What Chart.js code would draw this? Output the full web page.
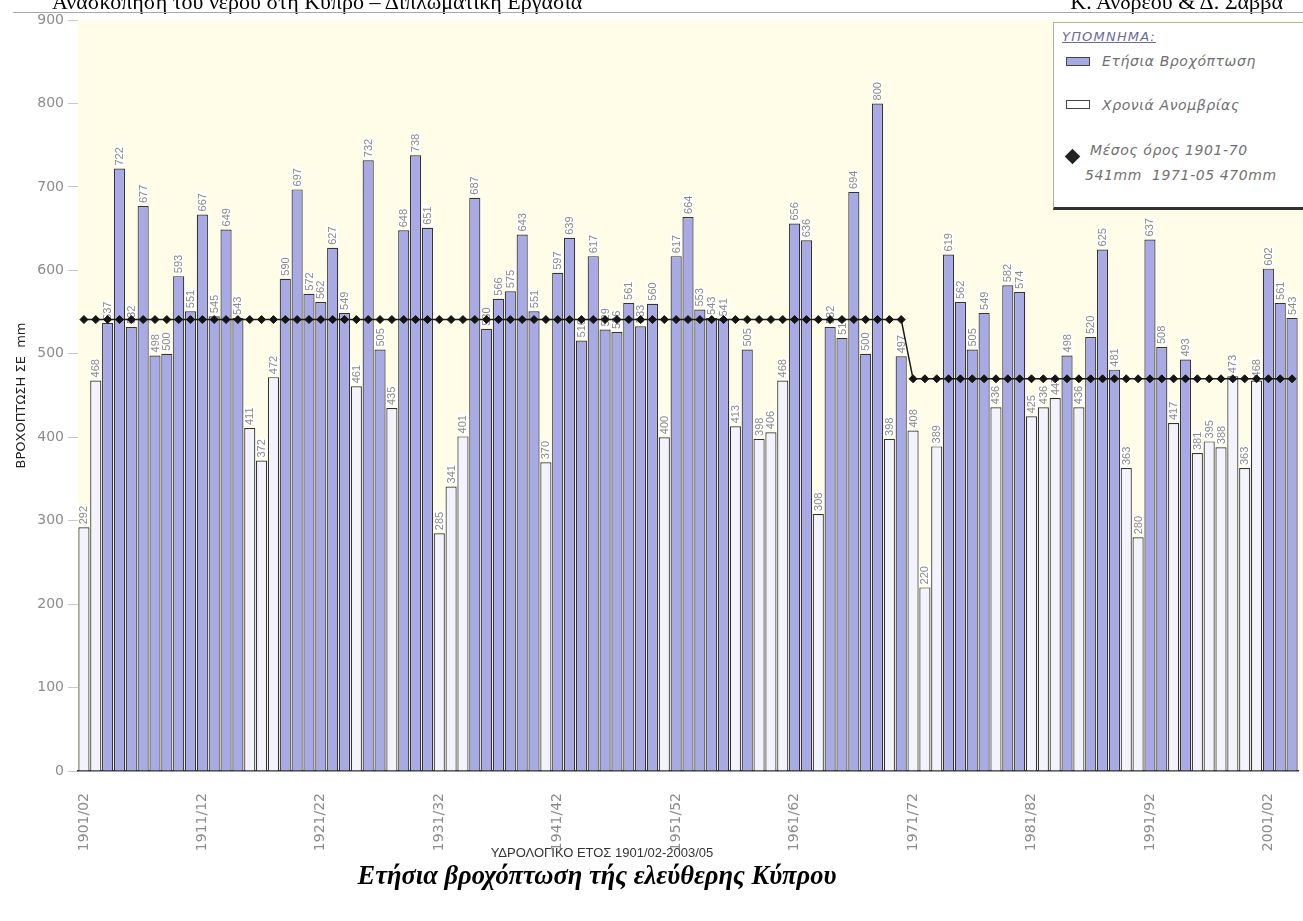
<!DOCTYPE html>
<html lang="el">
<head>
<meta charset="utf-8">
<title>Ετήσια βροχόπτωση τής ελεύθερης Κύπρου</title>
<script src="https://cdn.jsdelivr.net/npm/chart.js@4.4.1/dist/chart.umd.min.js"></script>
<style>
html,body{margin:0;padding:0;background:#fff}
body{width:1303px;height:921px;overflow:hidden;position:relative;font-family:"DejaVu Sans",sans-serif}
#wrap{position:absolute;left:0;top:0;width:1303px;height:870px}
.hdr{position:absolute;top:-9px;font:22px/22px "Liberation Serif",serif;color:#000;white-space:nowrap}
#rule{position:absolute;left:13px;right:0;top:12px;border-top:1px solid #a8a8a8}
#xtitle{position:absolute;left:402px;width:400px;top:845px;text-align:center;font:13px/15px "Liberation Sans",sans-serif;color:#333}
#caption{position:absolute;left:0;width:1194px;top:862px;text-align:center;font:bold italic 26.5px/27px "Liberation Serif",serif;color:#000}
#legend{position:absolute;left:1053px;top:22px;width:270px;height:184px;background:#fff;border:1px solid #b0b0b0;border-bottom:3px solid #333}
#legend div{position:absolute;white-space:nowrap}
.lt{font:italic 14px/16px "DejaVu Sans",sans-serif;color:#707070;letter-spacing:0.6px}
.sw{width:22px;height:7px;border:1.5px solid #444}
</style>
</head>
<body>
<div id="wrap"><canvas id="chartRain"></canvas></div>
<div class="hdr" style="left:52px">Ανασκόπηση του νερού στη Κύπρο – Διπλωματική Εργασία</div>
<div class="hdr" style="right:20px">Κ. Ανδρέου &amp; Δ. Σάββα</div>
<div id="rule"></div>
<div id="legend">
  <div style="left:8px;top:6px;font:italic 13px/15px 'DejaVu Sans',sans-serif;letter-spacing:1.2px;color:#6a6a98;text-decoration:underline">ΥΠΟΜΝΗΜΑ:</div>
  <div class="sw" style="left:12px;top:34px;background:#a8aae6"></div>
  <div class="lt" style="left:48px;top:30px">Ετήσια Βροχόπτωση</div>
  <div class="sw" style="left:12px;top:77px;background:#fff"></div>
  <div class="lt" style="left:48px;top:74px">Χρονιά Ανομβρίας</div>
  <div style="left:13px;top:128px;width:11px;height:11px;background:#222;transform:rotate(45deg)"></div>
  <div class="lt" style="left:36px;top:119px">Μέσος όρος 1901-70</div>
  <div class="lt" style="left:31px;top:144px">541mm&nbsp; 1971-05 470mm</div>
</div>
<div id="xtitle">ΥΔΡΟΛΟΓΙΚΟ ΕΤΟΣ 1901/02-2003/05</div>
<div id="caption">Ετήσια βροχόπτωση τής ελεύθερης Κύπρου</div>
<script>
// hydrological years 1901/02 .. 2003/04
var years=[];
for(var y=1901;y<=2003;y++) years.push(y+"/"+String((y+1)%100).padStart(2,"0"));

// annual rainfall, mm
var rainfall=[
  292,468,537,722,532,677,498,500,593,551,
  667,545,649,543,411,372,472,590,697,572,
  562,627,549,461,732,505,435,648,738,651,
  285,341,401,687,530,566,575,643,551,370,
  597,639,516,617,529,526,561,533,560,400,
  617,664,553,543,541,413,505,398,406,468,
  656,636,308,532,519,694,500,800,398,497,
  408,220,389,619,562,505,549,436,582,574,
  425,436,447,498,436,520,625,481,363,280,
  637,508,417,493,381,395,388,473,363,468,
  602,561,543
];

// 1 = drought year (white bar)
var drought=[
  1,1,0,0,0,0,0,0,0,0,
  0,0,0,0,1,1,1,0,0,0,
  0,0,0,1,0,0,1,0,0,0,
  1,1,1,0,0,0,0,0,0,1,
  0,0,0,0,0,0,0,0,0,1,
  0,0,0,0,0,1,0,1,1,1,
  0,0,1,0,0,0,0,0,1,0,
  1,1,1,0,0,0,0,1,0,0,
  1,1,1,0,1,0,0,0,1,1,
  0,0,1,0,1,1,1,1,1,1,
  0,0,0
];

// period means: 1901-70 and 1971-05
var meanValues=[541,470];
var meanStartIdx=[0,70];

var meanLine=years.map(function(_,i){return i>=meanStartIdx[1]?meanValues[1]:meanValues[0]});

var BLUE="#a8aae6",WHITE="#f3f3ff";

var plotBg={id:"plotBg",beforeDraw:function(c){
  var a=c.chartArea,x=c.ctx;
  x.save();
  x.fillStyle="#fffde7";
  x.fillRect(a.left,a.top,c.width-a.left,a.bottom-a.top);
  x.restore();
}};

var barLabels={id:"barLabels",afterDatasetDraw:function(c,args){
  if(args.index!==0) return;
  var ctx=c.ctx;
  ctx.save();
  ctx.font="11px 'Liberation Sans', sans-serif";
  ctx.textBaseline="middle";
  ctx.textAlign="left";
  args.meta.data.forEach(function(bar,i){
    var t=String(rainfall[i]),w=ctx.measureText(t).width;
    ctx.save();
    ctx.translate(bar.x,bar.y-3);
    ctx.rotate(-Math.PI/2);
    ctx.fillStyle="rgba(255,255,255,0.92)";
    ctx.fillRect(-1,-5.5,w+2,11);
    ctx.fillStyle="#8a8a8a";
    ctx.fillText(t,0,0.5);
    ctx.restore();
  });
  ctx.restore();
}};

Chart.defaults.font.family="'DejaVu Sans', sans-serif";

new Chart(document.getElementById("chartRain").getContext("2d"),{
  type:"bar",
  data:{labels:years,datasets:[
    {label:"Ετήσια Βροχόπτωση",data:rainfall,order:1,
     backgroundColor:drought.map(function(d){return d?WHITE:BLUE}),
     borderColor:"#333",borderWidth:1.2,barPercentage:0.94,categoryPercentage:1},
    {type:"line",label:"Μέσος όρος",data:meanLine,order:0,
     borderColor:"#1c1c1c",borderWidth:1.5,tension:0,
     pointStyle:"rectRot",pointRadius:4,pointBorderWidth:1,
     pointBackgroundColor:"#141414",pointBorderColor:"#141414"}
  ]},
  options:{
    responsive:true,maintainAspectRatio:false,animation:false,
    layout:{padding:{top:20,right:2,left:0,bottom:0}},
    plugins:{legend:{display:false},tooltip:{enabled:false}},
    scales:{
      x:{z:1,
        grid:{display:false},
        border:{display:true,color:"#333",width:1.5},
        ticks:{autoSkip:false,minRotation:90,maxRotation:90,padding:14,color:"#8c8c8c",font:{size:14},
          callback:function(v,i){return i%10===0?years[i]:""}},
        afterFit:function(s){s.height=99;s.paddingRight=0;s.paddingLeft=0}
      },
      y:{min:0,max:900,
        grid:{display:true,drawOnChartArea:false,drawTicks:true,tickLength:10,color:"#c8c8c8"},
        border:{display:false},
        ticks:{stepSize:100,padding:4,color:"#8c8c8c",font:{size:14}},
        title:{display:true,text:"ΒΡΟΧΟΠΤΩΣΗ ΣΕ  mm",color:"#222",font:{size:13},padding:{top:14,bottom:0}},
        afterFit:function(s){s.width=78}
      }
    }
  },
  plugins:[plotBg,barLabels]
});
</script>
</body>
</html>
